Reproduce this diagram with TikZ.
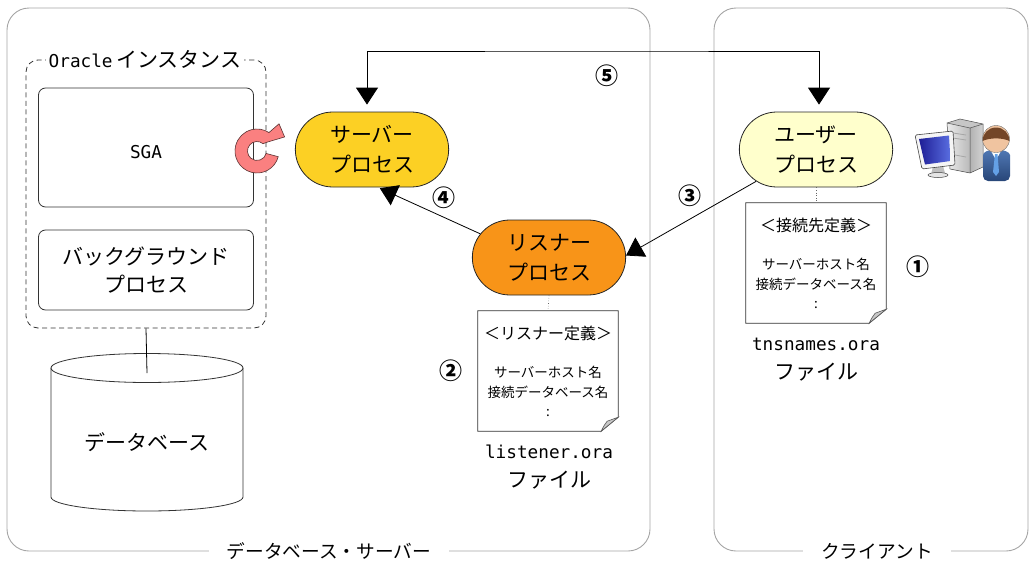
\documentclass[tikz,border=0pt]{standalone}
\usepackage{fontspec}
\setmainfont{Noto Sans CJK JP}
\newfontfamily\monofont{DejaVu Sans Mono}
\usetikzlibrary{shapes.misc,arrows.meta,calc}

\definecolor{srvfill}{RGB}{252,208,36}
\definecolor{lsnfill}{RGB}{248,148,24}
\definecolor{usrfill}{RGB}{255,255,204}
\definecolor{framegray}{RGB}{165,165,165}
\definecolor{ringfill}{RGB}{250,128,128}
\definecolor{ringline}{RGB}{90,50,50}
\definecolor{foldgray}{RGB}{200,200,200}
\definecolor{hair}{RGB}{115,70,40}
\definecolor{skin}{RGB}{240,196,160}
\definecolor{suit}{RGB}{40,70,120}
\definecolor{suitlight}{RGB}{80,120,180}
\definecolor{tie}{RGB}{100,160,230}
\definecolor{screendark}{RGB}{30,30,150}
\definecolor{screenlight}{RGB}{90,110,225}

% folded-corner page drawn around an empty placeholder node
\newcommand\docpage[1]{%
  \draw[fill=white, line width=0.8pt, draw=black!80]
    (#1.north west) -- (#1.north east) -- ([yshift=14pt]#1.south east)
    -- ([xshift=-17pt]#1.south east) -- (#1.south west) -- cycle;
  \filldraw[fill=foldgray, draw=black!65, line width=0.6pt]
    ([yshift=14pt]#1.south east) -- ([xshift=-17pt]#1.south east)
    .. controls ([xshift=-14pt,yshift=6pt]#1.south east) .. ([xshift=-11pt,yshift=10pt]#1.south east)
    -- cycle;
}

\begin{document}
\begin{tikzpicture}[x=1pt,y=-1pt,
  frame/.style={draw=framegray, line width=0.9pt, rounded corners=22pt},
  framelabel/.style={fill=white, inner xsep=18pt, inner ysep=2pt, font=\fontsize{18.7}{22}\selectfont},
  instbox/.style={draw=black!80, line width=0.8pt, dash pattern=on 5pt off 3.5pt, rounded corners=12pt,
    minimum width=240pt, minimum height=268pt},
  box/.style={draw=black!80, line width=0.8pt, rounded corners=7pt, minimum width=215pt, align=center},
  proc/.style={rounded rectangle, draw=black!85, line width=0.8pt, minimum width=160pt,
    minimum height=75pt, align=center, font=\fontsize{21}{30}\selectfont},
  placeholder/.style={minimum width=140pt, minimum height=120pt, inner sep=0pt},
  dochead/.style={font=\fontsize{16}{18}\selectfont},
  docbody/.style={align=center, font=\fontsize{13.5}{19.5}\selectfont},
  fname/.style={font=\monofont\fontsize{17.7}{20}\selectfont},
  ftype/.style={font=\fontsize{21}{24}\selectfont},
  num/.style={font=\bfseries\fontsize{23}{25}\selectfont},
  conn/.style={line width=0.8pt, draw=black},
  bigtip/.tip={Triangle[length=17pt,width=22pt]},
  dotlink/.style={draw=black!60, line width=0.6pt, dotted},
]
\useasboundingbox (0,0) rectangle (1036,565);

% ---- containers ----
\draw[frame] (7,8) rectangle (650,551);
\node[framelabel] (srvlabel) at (329,551) {データベース・サーバー};
\draw[frame] (714,8) rectangle (1028,551);
\node[framelabel] (clilabel) at (877,551) {クライアント};

% ---- Oracle instance ----
\node[instbox] (inst) at (146,194) {};
\node[fill=white, inner xsep=3pt, inner ysep=1pt, font=\fontsize{21}{24}\selectfont] (instlabel) at (145,59)
  {{\monofont\fontsize{17.7}{20}\selectfont Oracle}\,インスタンス};
\node[box, minimum height=119pt] (sga) at (146,147.5) {};
\node[font=\monofont\fontsize{17.7}{20}\selectfont] (sgatext) at ([yshift=-4.5pt]sga.center) {SGA};
\node[box, minimum height=80pt, font=\fontsize{21}{30}\selectfont] (bgp) at (146,270) {\raisebox{-2pt}{バックグラウンド}\\プロセス};

% ---- database cylinder ----
\filldraw[fill=white, draw=black!80, line width=0.8pt]
  (51,368) -- (51,497) arc[start angle=180, end angle=0, x radius=96, y radius=14] -- (243,368);
\draw[fill=white, draw=black!80, line width=0.8pt] (147,368) ellipse[x radius=96, y radius=14.5];
\node[font=\fontsize{21}{24}\selectfont] (db) at (147,442) {データベース};
\coordinate (dbtop) at (147,373);
\draw[conn] (inst.south) -- (dbtop);

% ---- processes ----
\node[proc, fill=srvfill] (srv) at (372,149.5) {サーバー\\プロセス};
\node[proc, fill=lsnfill] (lsn) at (549,257.5) {リスナー\\プロセス};
\node[proc, fill=usrfill] (usr) at (816,149.5) {ユーザー\\プロセス};

% ---- recursive arrow between SGA and server process ----
\filldraw[fill=ringfill, draw=ringline, line width=0.6pt, shift={(257,151)}]
  (15:22) arc[start angle=15, end angle=303, radius=22] -- (309:35) -- (333:31)
  -- (318:13) -- (310:9.5) arc[start angle=310, end angle=15, radius=9.5] -- cycle;

% ---- definition files ----
\node[placeholder] (lsdoc) at (548,371) {};
\docpage{lsdoc}
\node[dochead] (lshead) at ([yshift=-23pt]lsdoc.north) {＜リスナー定義＞};
\node[docbody] (lsbody) at ([yshift=-81pt]lsdoc.north) {サーバーホスト名\\接続データベース名\\:};
\node[fname] (lsname) at (549,452) {listener.ora};
\node[ftype] (lsfile) at (549,480) {ファイル};
\draw[dotlink] (lsn.south) -- (lsdoc.north);

\node[placeholder] (tndoc) at (816,263) {};
\docpage{tndoc}
\node[dochead] (tnhead) at ([yshift=-23pt]tndoc.north) {＜接続先定義＞};
\node[docbody] (tnbody) at ([yshift=-81pt]tndoc.north) {サーバーホスト名\\接続データベース名\\:};
\node[fname] (tnname) at (816,344) {tnsnames.ora};
\node[ftype] (tnfile) at (816,372) {ファイル};
\draw[dotlink] (usr.south) -- (tndoc.north);

% ---- connections ----
\coordinate (loop) at (600,51);
\draw[conn, bigtip-bigtip, shorten <=7pt, shorten >=7pt]
  ([xshift=-5pt]srv.north) |- (loop) -| ([xshift=3pt]usr.north);
\draw[conn, -bigtip] (usr.208) -- ([yshift=2pt]lsn.east);
\draw[conn, -bigtip, shorten >=2pt] (lsn.161) -- ([xshift=6pt]srv.south);

% ---- step numbers ----
\node[num] (n1) at (918,267) {①};
\node[num] (n2) at (451,371) {②};
\node[num] (n3) at (690,196) {③};
\node[num] (n4) at (444,198) {④};
\node[num] (n5) at (607,76) {⑤};

% ---- client workstation icon ----
% tower
\fill[gray!45] (947,123) -- (960,119) -- (983,124) -- (970,128) -- cycle;
\shade[left color=gray!15, right color=gray!55] (947,123) -- (970,128) -- (970,173) -- (950,169) -- cycle;
\shade[left color=gray!60, right color=gray!35] (970,128) -- (983,124) -- (983,167) -- (970,173) -- cycle;
\draw[gray!60!black, line width=0.5pt] (947,123) -- (960,119) -- (983,124) -- (983,167) -- (970,173) -- (950,169) -- cycle
  (947,123) -- (970,128) -- (983,124) (970,128) -- (970,173);
\draw[gray!70, line width=0.8pt] (953,133) -- (966,135) (953,138) -- (966,140) (955,155) -- (966,157);
% monitor
\fill[gray!50] (933,167) -- (943,166) -- (945,173) -- (931,174) -- cycle;
\filldraw[fill=gray!20, draw=gray!50!black, line width=0.5pt] (938,175) ellipse[x radius=10, y radius=2.5];
\filldraw[fill=gray!8, draw=gray!55!black, line width=0.6pt, rounded corners=1.5pt]
  (915,135) -- (953,131) -- (955,165) -- (922,169) -- cycle;
\shade[left color=screendark, right color=screenlight]
  (919,139) -- (949,135.5) -- (950.5,161) -- (925,164.5) -- cycle;
% person
\shade[top color=suitlight, bottom color=suit, rounded corners=5pt]
  (983,181) -- (983,160) .. controls (983,152) and (989,150) .. (996,150)
  .. controls (1003,150) and (1010,152) .. (1010,160) -- (1010,181) -- cycle;
\fill[white] (991,151) -- (1001,151) -- (996,160) -- cycle;
\fill[tie] (995,154) -- (997.5,154) -- (999,172) -- (996,176) -- (993,172) -- cycle;
\fill[skin] (996,139) circle[radius=13.5];
\fill[hair] (982.5,141) arc[start angle=180, end angle=360, radius=13.5]
  .. controls (1002,137.5) and (990,137.5) .. (982.5,141) -- cycle;
\draw[black!55, line width=0.4pt] (996,139) circle[radius=13.5];
\end{tikzpicture}
\end{document}
